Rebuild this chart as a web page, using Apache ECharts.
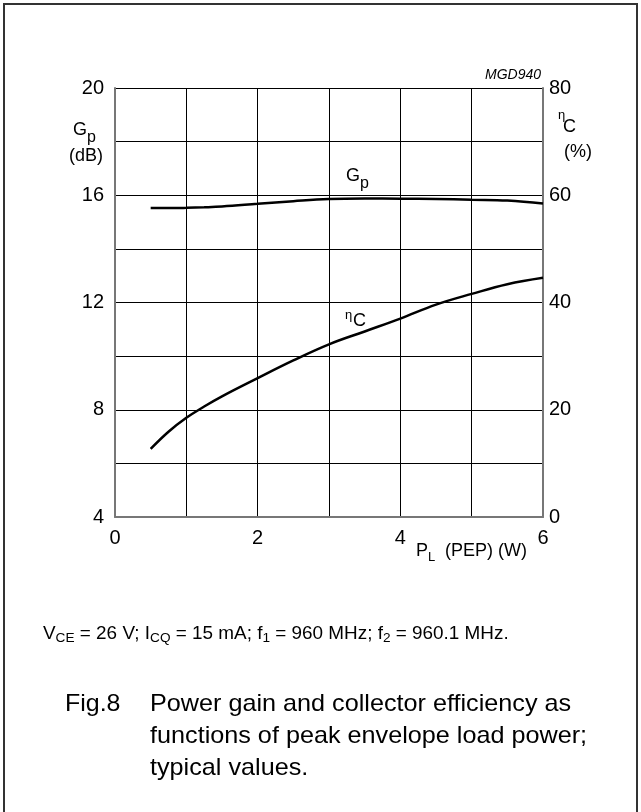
<!DOCTYPE html>
<html>
<head>
<meta charset="utf-8">
<script src="https://cdn.jsdelivr.net/npm/echarts@6/dist/echarts.min.js"></script>
<style>
html,body{margin:0;padding:0;background:#fff;}
#chart{width:641px;height:812px;}
</style>
</head>
<body>
<div id="chart"></div>
<script>
// ---- data ----
const loadPower = [0.5, 0.75, 1, 1.25, 1.5, 2, 2.5, 3, 3.5, 4, 4.5, 5, 5.5, 6];
const gainDb = [15.52, 15.52, 15.53, 15.55, 15.58, 15.68, 15.78, 15.86, 15.88, 15.87, 15.86, 15.83, 15.80, 15.69];
const effPct = [12.7, 15.9, 18.5, 20.6, 22.5, 25.9, 29.2, 32.2, 34.6, 37.0, 39.6, 41.6, 43.4, 44.6];
const xTickLabels = [0, 2, 4, 6];
const leftTickLabels = [4, 8, 12, 16, 20];
const rightTickLabels = [0, 20, 40, 60, 80];

const FF = "'Liberation Sans', Arial, Helvetica, sans-serif";
const chart = echarts.init(document.getElementById('chart'), null, {renderer: 'canvas'});

function txt(x, y, text, size, opts) {
  opts = opts || {};
  return {
    type: 'text', x: x, y: y, silent: true,
    scaleX: opts.sx || 1,
    style: {
      text: text,
      font: (opts.italic ? 'italic ' : '') + size + 'px ' + FF,
      fill: '#000',
      textAlign: opts.align || 'left',
      textVerticalAlign: 'middle',
      align: opts.align || 'left',
      verticalAlign: 'middle'
    }
  };
}

const footRich = {
  n: {font: '18px ' + FF, color: '#000', lineHeight: 22, verticalAlign: 'middle'},
  s: {font: '13px ' + FF, color: '#000', lineHeight: 12, verticalAlign: 'bottom'}
};

const option = {
  animation: false,
  backgroundColor: '#fff',
  grid: {left: 115, right: 98, top: 88, bottom: 295, containLabel: false},
  xAxis: {
    type: 'value', min: 0, max: 6, interval: 1,
    axisLine: {show: true, lineStyle: {color: '#777', width: 2}},
    axisTick: {show: false},
    splitLine: {show: true, lineStyle: {color: '#000', width: 1}},
    axisLabel: {
      margin: 11, color: '#000', fontFamily: FF, fontSize: 20,
      formatter: v => xTickLabels.includes(v) ? String(v) : ''
    }
  },
  yAxis: [
    {
      type: 'value', min: 4, max: 20, interval: 2, position: 'left',
      axisLine: {show: true, lineStyle: {color: '#777', width: 2}},
      axisTick: {show: false},
      splitLine: {show: true, lineStyle: {color: '#000', width: 1}},
      axisLabel: {
        margin: 11, color: '#000', fontFamily: FF, fontSize: 20,
        formatter: v => leftTickLabels.includes(v) ? String(v) : ''
      }
    },
    {
      type: 'value', min: 0, max: 80, interval: 10, position: 'right',
      axisLine: {show: true, lineStyle: {color: '#777', width: 2}},
      axisTick: {show: false},
      splitLine: {show: false},
      axisLabel: {
        margin: 6, color: '#000', fontFamily: FF, fontSize: 20,
        formatter: v => rightTickLabels.includes(v) ? String(v) : ''
      }
    }
  ],
  series: [
    {
      name: 'Gp', type: 'line', yAxisIndex: 0, smooth: 0.4, showSymbol: false,
      lineStyle: {color: '#000', width: 2.5},
      data: loadPower.map((x, i) => [x, gainDb[i]]), z: 5
    },
    {
      name: 'ηC', type: 'line', yAxisIndex: 1, smooth: 0.4, showSymbol: false,
      lineStyle: {color: '#000', width: 2.5},
      data: loadPower.map((x, i) => [x, effPct[i]]), z: 5
    }
  ],
  graphic: [
    {type: 'rect', silent: true, shape: {x: 4, y: 4, width: 633, height: 900},
     style: {fill: 'none', stroke: '#333', lineWidth: 2}},
    txt(541, 75, 'MGD940', 14, {italic: true, align: 'right'}),
    // left axis name
    txt(73, 130, 'G', 18),
    txt(87, 138, 'p', 16),
    txt(86, 156, '(dB)', 18, {align: 'center'}),
    // right axis name
    txt(558, 115, 'η', 13),
    txt(563, 127, 'C', 18),
    txt(578, 152, '(%)', 18, {align: 'center'}),
    // curve labels
    txt(346, 176, 'G', 18),
    txt(360, 184, 'p', 16),
    txt(345, 315, 'η', 13),
    txt(353, 321, 'C', 18),
    // x axis name
    txt(416, 551, 'P', 18),
    txt(428, 557, 'L', 13),
    txt(527, 551, '(PEP) (W)', 18, {align: 'right'}),
    // footnote
    {
      type: 'text', x: 43, y: 634, silent: true, scaleX: 1.05,
      style: {
        text: '{n|V}{s|CE}{n| = 26 V; I}{s|CQ}{n| = 15 mA; f}{s|1}{n| = 960 MHz; f}{s|2}{n| = 960.1 MHz.}',
        rich: footRich, textVerticalAlign: 'middle', verticalAlign: 'middle'
      }
    },
    // caption
    txt(65, 704, 'Fig.8', 24, {sx: 1.04}),
    txt(150, 704, 'Power gain and collector efficiency as', 24, {sx: 1.05}),
    txt(150, 736, 'functions of peak envelope load power;', 24, {sx: 1.05}),
    txt(150, 768, 'typical values.', 24, {sx: 1.05})
  ]
};
chart.setOption(option);
</script>
</body>
</html>
